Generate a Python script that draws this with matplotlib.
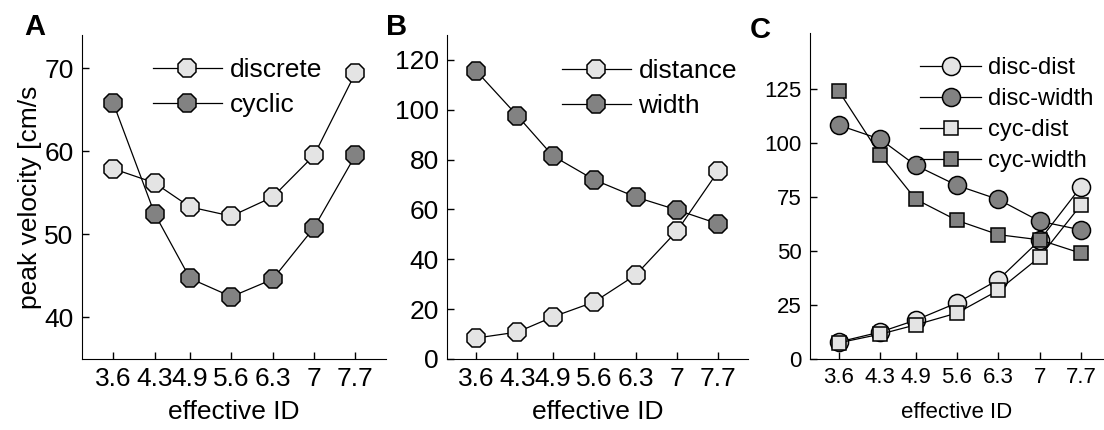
import matplotlib
matplotlib.use("Agg")
import matplotlib.pyplot as plt
from matplotlib import font_manager

x_ids = [3.6, 4.3, 4.9, 5.6, 6.3, 7.0, 7.7]
x_labels = ["3.6", "4.3", "4.9", "5.6", "6.3", "7", "7.7"]

# Panel A
a_discrete = [57.9, 56.2, 53.3, 52.2, 54.5, 59.5, 69.4]
a_cyclic = [65.8, 52.5, 44.7, 42.5, 44.6, 50.8, 59.5]

# Panel B
b_distance = [8.4, 10.8, 16.9, 22.9, 33.7, 51.4, 75.5]
b_width = [115.7, 97.6, 81.5, 71.9, 65.0, 59.8, 54.2]

# Panel C
c_disc_dist = [7.9, 12.5, 18.0, 26.0, 36.7, 55.0, 79.8]
c_disc_width = [108.3, 101.8, 89.7, 80.4, 73.9, 63.8, 59.8]
c_cyc_dist = [7.5, 11.5, 15.8, 21.3, 31.8, 47.2, 71.4]
c_cyc_width = [124.0, 94.5, 74.0, 64.2, 57.6, 55.2, 49.0]

LIGHT = "#e4e4e4"
DARK = "#828282"

names = {f.name for f in font_manager.fontManager.ttflist}
narrow = "Liberation Sans Narrow" if "Liberation Sans Narrow" in names else "Liberation Sans"
plt.rcParams["font.family"] = ["Liberation Sans", "DejaVu Sans"]

W, H = 1104, 430
fig = plt.figure(figsize=(W / 100, H / 100), dpi=100)


def box(l, r, t, b):
    return [l / W, (H - b) / H, (r - l) / W, (b - t) / H]


def style(ax, fs, fam):
    for s in ("top", "right"):
        ax.spines[s].set_visible(False)
    ax.tick_params(direction="in", length=5, width=1, labelsize=fs, pad=6)
    ax.set_xticks(x_ids)
    ax.set_xticklabels(x_labels, family=fam)
    for lab in ax.get_yticklabels():
        lab.set_family(fam)


LEG = dict(frameon=False, numpoints=1, handlelength=2.6, handletextpad=0.3,
           labelspacing=0.41, borderaxespad=0.0, borderpad=0.0, loc="upper left")

ax1 = fig.add_axes(box(82, 386, 35, 359))
ax1.plot(x_ids, a_discrete, "-8", color="black", lw=0.9, ms=14, mfc=LIGHT, mec="black", mew=1.1, label="discrete")
ax1.plot(x_ids, a_cyclic, "-8", color="black", lw=0.9, ms=14, mfc=DARK, mec="black", mew=1.1, label="cyclic")
ax1.set_xlim(3.07, 8.22)
ax1.set_ylim(35, 74)
ax1.set_yticks([40, 50, 60, 70])
style(ax1, 19, "Liberation Sans")
ax1.set_xlabel("effective ID", fontsize=19, labelpad=6)
ax1.set_ylabel("peak velocity [cm/s", fontsize=19, labelpad=2)
ax1.legend(bbox_to_anchor=(153 / W, 1 - 58 / H), bbox_transform=fig.transFigure, fontsize=19, **LEG)
fig.text(24 / W, 1 - 27 / H, "A", fontsize=21, fontweight="bold", va="center", ha="left")

ax2 = fig.add_axes(box(447, 748, 35, 359))
ax2.plot(x_ids, b_distance, "-8", color="black", lw=0.9, ms=14, mfc=LIGHT, mec="black", mew=1.1, label="distance")
ax2.plot(x_ids, b_width, "-8", color="black", lw=0.9, ms=14, mfc=DARK, mec="black", mew=1.1, label="width")
ax2.set_xlim(3.11, 8.2)
ax2.set_ylim(0, 130)
ax2.set_yticks([0, 20, 40, 60, 80, 100, 120])
style(ax2, 19, "Liberation Sans")
ax2.set_xlabel("effective ID", fontsize=19, labelpad=6)
ax2.legend(bbox_to_anchor=(562 / W, 1 - 59 / H), bbox_transform=fig.transFigure, fontsize=19, **LEG)
fig.text(386 / W, 1 - 27 / H, "B", fontsize=21, fontweight="bold", va="center", ha="left")

ax3 = fig.add_axes(box(810, 1104, 33, 359))
ax3.plot(x_ids, c_disc_dist, "-o", color="black", lw=0.9, ms=13, mfc=LIGHT, mec="black", mew=1.1, label="disc-dist")
ax3.plot(x_ids, c_disc_width, "-o", color="black", lw=0.9, ms=13, mfc=DARK, mec="black", mew=1.1, label="disc-width")
ax3.plot(x_ids, c_cyc_dist, "-s", color="black", lw=0.9, ms=10, mfc=LIGHT, mec="black", mew=1.1, label="cyc-dist")
ax3.plot(x_ids, c_cyc_width, "-s", color="black", lw=0.9, ms=10, mfc=DARK, mec="black", mew=1.1, label="cyc-width")
ax3.set_xlim(3.11, 8.09)
ax3.set_ylim(0, 151)
ax3.set_yticks([0, 25, 50, 75, 100, 125])
style(ax3, 16, narrow)
ax3.set_xlabel("effective ID", fontsize=16, labelpad=10, family=narrow)
ax3.legend(bbox_to_anchor=(920 / W, 1 - 57 / H), bbox_transform=fig.transFigure,
           prop={"family": narrow, "size": 17}, **{**LEG, "labelspacing": 0.38})
fig.text(750 / W, 1 - 30 / H, "C", fontsize=21, fontweight="bold", va="center", ha="left")

fig.savefig("out.png", dpi=100, facecolor="white")
